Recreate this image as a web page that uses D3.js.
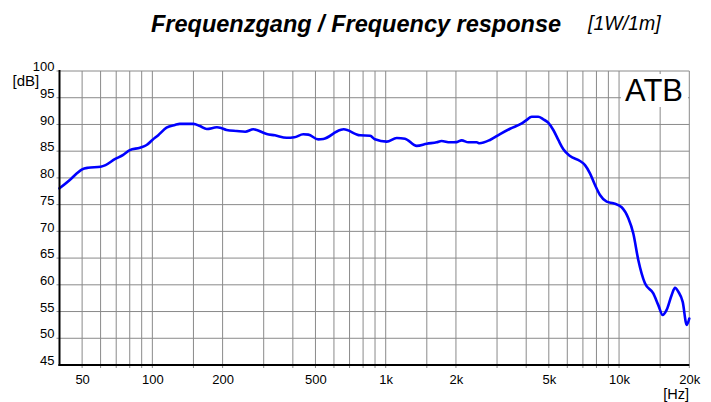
<!DOCTYPE html>
<html>
<head>
<meta charset="utf-8">
<script src="https://cdn.jsdelivr.net/npm/d3@7"></script>
<style>
  html, body { margin: 0; padding: 0; background: #fff; }
  svg { display: block; font-family: "Liberation Sans", Arial, sans-serif; }
</style>
</head>
<body>
<svg id="chart" width="711" height="402"></svg>
<script>
// ---- data ----
const freqs = [40, 45, 47.5, 50, 53, 60, 63, 69, 75, 80, 88.5, 94.5, 100, 106, 115, 125, 131, 150, 160, 171, 189, 198, 208, 230, 250, 271, 280, 309, 335, 376, 406, 443, 466, 514, 540, 638, 660, 776, 858, 899, 1010, 1115, 1210, 1358, 1500, 1654, 1735, 1886, 2016, 2116, 2262, 2455, 2524, 2798, 3090, 3410, 3830, 4010, 4222, 4506, 4735, 4970, 5227, 5491, 5770, 6165, 6802, 7145, 7505, 7888, 8286, 8850, 9450, 10260, 10960, 11510, 12090, 12910, 14020, 14730, 15380, 15990, 16810, 17370, 17950, 18740, 19500, 20000];
const splDb = [78.05, 79.9, 80.86, 81.6, 81.9, 82.1, 82.4, 83.5, 84.3, 85.2, 85.65, 86.15, 87.1, 88.0, 89.4, 89.9, 90.1, 90.1, 89.7, 89.15, 89.47, 89.3, 88.96, 88.77, 88.64, 89.1, 88.96, 88.2, 87.97, 87.5, 87.6, 88.16, 88.1, 87.2, 87.27, 88.96, 89.1, 87.97, 87.9, 87.22, 86.78, 87.46, 87.33, 86.0, 86.4, 86.66, 86.9, 86.66, 86.7, 87.03, 86.66, 86.66, 86.47, 87.1, 88.2, 89.2, 90.2, 90.8, 91.45, 91.45, 90.96, 90.33, 88.96, 87.1, 85.35, 84.1, 83.16, 82.4, 80.86, 78.67, 76.8, 75.55, 75.25, 74.5, 72.44, 69.6, 64.64, 60.28, 58.4, 56.2, 54.35, 55.3, 58.1, 59.45, 58.7, 56.8, 52.5, 53.7];
const freqTicks = [50, 100, 200, 500, 1000, 2000, 5000, 10000, 20000];
const freqTickLabels = ["50", "100", "200", "500", "1k", "2k", "5k", "10k", "20k"];
const gridFreqs = [50, 60, 70, 80, 90, 100, 150, 200, 300, 400, 500, 600, 700, 800, 900, 1000, 1500, 2000, 3000, 4000, 5000, 6000, 7000, 8000, 9000, 10000, 15000, 20000];
const dbTicks = [45, 50, 55, 60, 65, 70, 75, 80, 85, 90, 95, 100];
const titleText = "Frequenzgang / Frequency response";
const subtitleText = "[1W/1m]";
const badgeText = "ATB";
const yUnit = "[dB]";
const xUnit = "[Hz]";

// ---- layout ----
const svg = d3.select("#chart");
const L = 59.5, R = 689.3, T = 71, B = 365;
const x = d3.scaleLog().domain([40, 20000]).range([L, R]);
const y = d3.scaleLinear().domain([45, 100]).range([B, T]);
const font = '"Liberation Sans", Arial, sans-serif';

svg.append("rect").attr("width", 711).attr("height", 402).attr("fill", "#fff");

// grid
const grid = svg.append("g");
grid.selectAll("line.v").data(gridFreqs).join("line")
  .attr("x1", d => x(d)).attr("x2", d => x(d))
  .attr("y1", T).attr("y2", B + 3)
  .attr("stroke", "#8a8a8a").attr("stroke-width", 1);
grid.selectAll("line.h").data(dbTicks.filter(d => d > 45)).join("line")
  .attr("x1", L - 3).attr("x2", R)
  .attr("y1", d => y(d)).attr("y2", d => y(d))
  .attr("stroke", "#8a8a8a").attr("stroke-width", 1);

// badge
svg.append("rect").attr("x", 621).attr("y", 74).attr("width", 67).attr("height", 33).attr("fill", "#fff");
svg.append("text").attr("x", 625).attr("y", 101).attr("font-size", 31).attr("fill", "#000")
  .attr("font-family", font).text(badgeText);

// curve
const pts = freqs.map((f, i) => [x(f), y(splDb[i])]);
svg.append("path")
  .attr("d", d3.line().curve(d3.curveMonotoneX)(pts))
  .attr("fill", "none").attr("stroke", "#0000ff").attr("stroke-width", 2.6)
  .attr("stroke-linejoin", "round").attr("stroke-linecap", "round");

// axes
const yAxis = svg.append("g").attr("transform", `translate(${L},0)`)
  .call(d3.axisLeft(y).tickValues(dbTicks).tickSize(0).tickPadding(5));
yAxis.select(".domain").remove();
yAxis.selectAll("text").attr("dy", "0").attr("y", -0.3).attr("font-size", 13)
  .attr("font-family", font).attr("fill", "#000");

const xAxis = svg.append("g").attr("transform", `translate(0,${B})`)
  .call(d3.axisBottom(x).tickValues(freqTicks).tickFormat((d, i) => freqTickLabels[i]).tickSize(0));
xAxis.select(".domain").remove();
xAxis.selectAll("text").attr("dy", "0").attr("y", 18.5).attr("font-size", 13)
  .attr("font-family", font).attr("fill", "#000");

svg.append("line").attr("x1", L).attr("x2", L).attr("y1", T - 1).attr("y2", B + 1)
  .attr("stroke", "#000").attr("stroke-width", 2);
svg.append("line").attr("x1", L - 1).attr("x2", R).attr("y1", B).attr("y2", B)
  .attr("stroke", "#000").attr("stroke-width", 2);

// unit labels
svg.append("text").attr("x", 12.5).attr("y", 86).attr("font-size", 15).attr("font-family", font)
  .attr("fill", "#000").text(yUnit);
svg.append("text").attr("x", 689).attr("y", 398.5).attr("text-anchor", "end").attr("font-size", 14.5)
  .attr("font-family", font).attr("fill", "#000").text(xUnit);

// titles
svg.append("text").attr("x", 151).attr("y", 31.5).attr("font-size", 23.5)
  .attr("font-weight", "bold").attr("font-style", "italic").attr("font-family", font)
  .attr("fill", "#000").text(titleText);
svg.append("text").attr("x", 588).attr("y", 30).attr("font-size", 19.5)
  .attr("font-style", "italic").attr("font-family", font)
  .attr("fill", "#000").text(subtitleText);
</script>
</body>
</html>
